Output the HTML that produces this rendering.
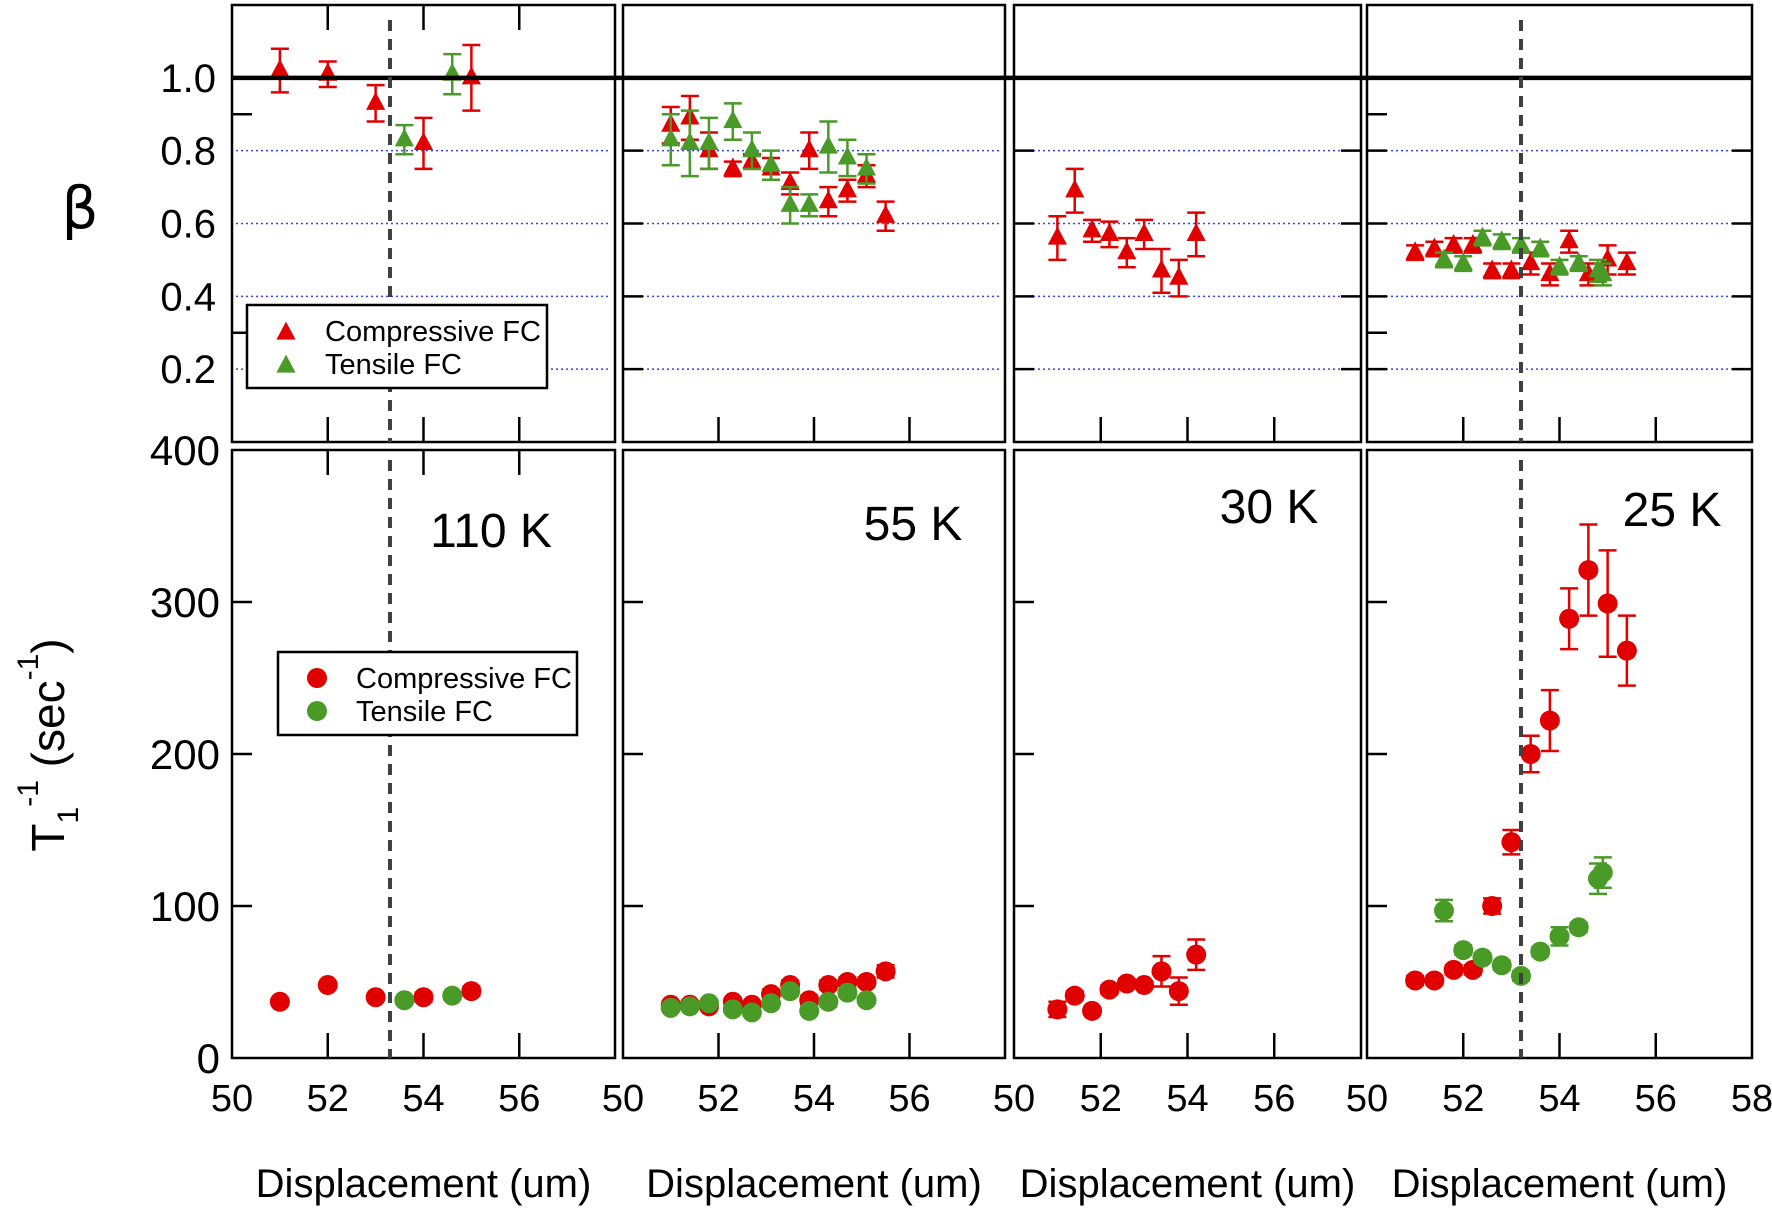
<!DOCTYPE html>
<html><head><meta charset="utf-8"><style>
html,body{margin:0;padding:0;background:#fff;}
svg{display:block;font-family:"Liberation Sans",Arial,sans-serif;}
</style></head><body>
<svg id="chart" width="1772" height="1209" viewBox="0 0 1772 1209" xmlns="http://www.w3.org/2000/svg">
<text x="80" y="228" font-size="58" text-anchor="middle" font-family="'DejaVu Sans',sans-serif">β</text>
<text transform="translate(64,745) rotate(-90)" font-size="46" text-anchor="middle">T<tspan font-size="30" dy="14">1</tspan><tspan font-size="30" dy="-40">-1</tspan><tspan dy="26"> (sec</tspan><tspan font-size="30" dy="-26">-1</tspan><tspan dy="26">)</tspan></text>
</svg>
<script>
// ---- data ----
const panelTemps = ["110 K","55 K","30 K","25 K"];
const betaTicks = [0.2,0.4,0.6,0.8,1.0];
const t1Ticks = [0,100,200,300,400];
const xTicks = [50,52,54,56,58];
const dashedXs = [53.3,53.3,null,53.2];
// panel 1 (110 K)
const p1BetaCompX = [51,52,53,54,55];
const p1BetaCompY = [1.02,1.01,0.93,0.82,1.0];
const p1BetaCompE = [0.06,0.035,0.05,0.07,0.09];
const p1BetaTensX = [53.6,54.6];
const p1BetaTensY = [0.83,1.01];
const p1BetaTensE = [0.04,0.055];
const p1T1CompX = [51,52,53,54,55];
const p1T1CompY = [37,48,40,40,44];
const p1T1CompE = [2,2,2,3,3];
const p1T1TensX = [53.6,54.6];
const p1T1TensY = [38,41];
const p1T1TensE = [2,2];
// panel 2 (55 K)
const p2BetaCompX = [51.0,51.4,51.8,52.3,52.7,53.1,53.5,53.9,54.3,54.7,55.1,55.5];
const p2BetaCompY = [0.87,0.89,0.80,0.75,0.77,0.75,0.71,0.80,0.66,0.69,0.73,0.62];
const p2BetaCompE = [0.05,0.06,0.05,0.02,0.02,0.03,0.03,0.05,0.04,0.03,0.03,0.04];
const p2BetaTensX = [51.0,51.4,51.8,52.3,52.7,53.1,53.5,53.9,54.3,54.7,55.1];
const p2BetaTensY = [0.83,0.82,0.82,0.88,0.80,0.76,0.65,0.65,0.81,0.78,0.75];
const p2BetaTensE = [0.07,0.09,0.07,0.05,0.05,0.04,0.05,0.03,0.07,0.05,0.04];
const p2T1CompX = [51.0,51.4,51.8,52.3,52.7,53.1,53.5,53.9,54.3,54.7,55.1,55.5];
const p2T1CompY = [35,35,34,37,35,42,48,38,48,50,50,57];
const p2T1CompE = [2,2,2,2,2,3,3,3,3,3,3,4];
const p2T1TensX = [51.0,51.4,51.8,52.3,52.7,53.1,53.5,53.9,54.3,54.7,55.1];
const p2T1TensY = [33,34,36,32,30,36,44,31,37,43,38];
const p2T1TensE = [2,2,2,2,2,2,3,2,3,3,2];
// panel 3 (30 K)
const p3BetaCompX = [51.0,51.4,51.8,52.2,52.6,53.0,53.4,53.8,54.2];
const p3BetaCompY = [0.56,0.69,0.58,0.57,0.52,0.57,0.47,0.45,0.57];
const p3BetaCompE = [0.06,0.06,0.03,0.035,0.04,0.04,0.06,0.05,0.06];
const p3T1CompX = [51.0,51.4,51.8,52.2,52.6,53.0,53.4,53.8,54.2];
const p3T1CompY = [32,41,31,45,49,48,57,44,68];
const p3T1CompE = [5,3,2,3,3,2,10,9,10];
// panel 4 (25 K)
const p4BetaCompX = [51.0,51.4,51.8,52.2,52.6,53.0,53.4,53.8,54.2,54.6,55.0,55.4];
const p4BetaCompY = [0.52,0.53,0.54,0.54,0.47,0.47,0.49,0.46,0.55,0.46,0.50,0.49];
const p4BetaCompE = [0.02,0.02,0.02,0.02,0.02,0.02,0.03,0.03,0.03,0.03,0.04,0.03];
const p4BetaTensX = [51.6,52.0,52.4,52.8,53.2,53.6,54.0,54.4,54.8,54.9];
const p4BetaTensY = [0.50,0.49,0.56,0.55,0.54,0.53,0.48,0.49,0.47,0.46];
const p4BetaTensE = [0.02,0.02,0.02,0.02,0.02,0.02,0.02,0.02,0.03,0.03];
const p4T1CompX = [51.0,51.4,51.8,52.2,52.6,53.0,53.4,53.8,54.2,54.6,55.0,55.4];
const p4T1CompY = [51,51,58,58,100,142,200,222,289,321,299,268];
const p4T1CompE = [3,3,3,3,5,8,12,20,20,30,35,23];
const p4T1TensX = [51.6,52.0,52.4,52.8,53.2,53.6,54.0,54.4,54.8,54.9];
const p4T1TensY = [97,71,66,61,54,70,80,86,118,122];
const p4T1TensE = [7,3,3,3,3,3,6,3,10,10];

const RED = "#e00000", GREEN = "#4a9a28";
const NS = "http://www.w3.org/2000/svg";
const svg = document.getElementById("chart");
function mk(tag, attrs, parent){
  const e = document.createElementNS(NS, tag);
  for (const k in attrs) e.setAttribute(k, attrs[k]);
  (parent||svg).appendChild(e);
  return e;
}
const panels = [
  {x0:232,x1:615},{x0:623,x1:1005},{x0:1014,x1:1361},{x0:1367,x1:1752}
];
const TOP = {y0:5,y1:442}, BOT = {y0:450,y1:1058};
function xs(p,v){return p.x0 + (v-50)/8*(p.x1-p.x0);}
function yb(v){return TOP.y1 - v/1.2*(TOP.y1-TOP.y0);}
function yt(v){return BOT.y1 - v/400*(BOT.y1-BOT.y0);}

const data = [
  {bc:[p1BetaCompX,p1BetaCompY,p1BetaCompE], bt:[p1BetaTensX,p1BetaTensY,p1BetaTensE], tc:[p1T1CompX,p1T1CompY,p1T1CompE], tt:[p1T1TensX,p1T1TensY,p1T1TensE]},
  {bc:[p2BetaCompX,p2BetaCompY,p2BetaCompE], bt:[p2BetaTensX,p2BetaTensY,p2BetaTensE], tc:[p2T1CompX,p2T1CompY,p2T1CompE], tt:[p2T1TensX,p2T1TensY,p2T1TensE]},
  {bc:[p3BetaCompX,p3BetaCompY,p3BetaCompE], bt:null, tc:[p3T1CompX,p3T1CompY,p3T1CompE], tt:null},
  {bc:[p4BetaCompX,p4BetaCompY,p4BetaCompE], bt:[p4BetaTensX,p4BetaTensY,p4BetaTensE], tc:[p4T1CompX,p4T1CompY,p4T1CompE], tt:[p4T1TensX,p4T1TensY,p4T1TensE]}
];
const tempPos = [[491,547],[913,540],[1269,523],[1672,526]];

function tri(g,cx,cy,col,s){
  const el = mk("polygon",{points:`${cx},${cy-s*0.95} ${cx-s*0.8},${cy+s*0.55} ${cx+s*0.8},${cy+s*0.55}`,fill:col},g);
  
  
}
function dot(g,cx,cy,col,r){
  const el = mk("circle",{cx:cx,cy:cy,r:r,fill:col},g);
  
  
}
function errbar(g,x,ylo,yhi,col){
  mk("line",{x1:x,x2:x,y1:ylo,y2:yhi,stroke:col,"stroke-width":2.5},g);
  mk("line",{x1:x-9,x2:x+9,y1:ylo,y2:ylo,stroke:col,"stroke-width":2.5},g);
  mk("line",{x1:x-9,x2:x+9,y1:yhi,y2:yhi,stroke:col,"stroke-width":2.5},g);
}
function series(g,p,arr,col,kind){
  const [X,Y,E]=arr;
  for(let i=0;i<X.length;i++){
    const cx=xs(p,X[i]);
    if(kind==="beta"){
      errbar(g,cx,yb(Y[i]-E[i]),yb(Y[i]+E[i]),col);
      tri(g,cx,yb(Y[i]),col,12);
    } else {
      errbar(g,cx,yt(Y[i]-E[i]),yt(Y[i]+E[i]),col);
      dot(g,cx,yt(Y[i]),col,10);
    }
  }
}

panels.forEach((p,pi)=>{
  const gt = mk("g",{});
  
  
  betaTicks.forEach(v=>{
    if(v<1.0 || pi>=2){
      const gl = mk("line",{x1:p.x0+4,x2:p.x1-4,y1:yb(v),y2:yb(v),stroke:"#3344ee","stroke-width":1.5,"stroke-dasharray":"2,3"},gt);
      
      
    }
    if(pi>0){
      mk("line",{x1:p.x0,x2:p.x0+20,y1:yb(v),y2:yb(v),stroke:"#000","stroke-width":2.5},gt);
      if(pi>=2) mk("line",{x1:p.x1-20,x2:p.x1,y1:yb(v),y2:yb(v),stroke:"#000","stroke-width":2.5},gt);
    }
  });
  if(pi===0||pi===3){
    [0.9,0.3].forEach(v=>mk("line",{x1:p.x0,x2:p.x0+20,y1:yb(v),y2:yb(v),stroke:"#000","stroke-width":2.5},gt));
  }
  [52,54,56].forEach(v=>{
    mk("line",{x1:xs(p,v),x2:xs(p,v),y1:TOP.y1,y2:TOP.y1-25,stroke:"#000","stroke-width":2.5},gt);
    if(pi===0) mk("line",{x1:xs(p,v),x2:xs(p,v),y1:TOP.y0,y2:TOP.y0+25,stroke:"#000","stroke-width":2.5},gt);
  });
  if(data[pi].bc) series(gt,p,data[pi].bc,RED,"beta");
  if(data[pi].bt) series(gt,p,data[pi].bt,GREEN,"beta");
  const bt = mk("rect",{x:p.x0,y:TOP.y0,width:p.x1-p.x0,height:TOP.y1-TOP.y0,fill:"none",stroke:"#000","stroke-width":2.5},gt);
  
  

  const gb = mk("g",{});
  
  
  [100,200,300].forEach(v=>mk("line",{x1:p.x0,x2:p.x0+20,y1:yt(v),y2:yt(v),stroke:"#000","stroke-width":2.5},gb));
  [52,54,56].forEach(v=>{
    mk("line",{x1:xs(p,v),x2:xs(p,v),y1:BOT.y1,y2:BOT.y1-25,stroke:"#000","stroke-width":2.5},gb);
    if(pi===0) mk("line",{x1:xs(p,v),x2:xs(p,v),y1:BOT.y0,y2:BOT.y0+25,stroke:"#000","stroke-width":2.5},gb);
  });
  if(data[pi].tc) series(gb,p,data[pi].tc,RED,"t1");
  if(data[pi].tt) series(gb,p,data[pi].tt,GREEN,"t1");
  const bf = mk("rect",{x:p.x0,y:BOT.y0,width:p.x1-p.x0,height:BOT.y1-BOT.y0,fill:"none",stroke:"#000","stroke-width":2.5},gb);
  
  

  const tl = mk("text",{x:tempPos[pi][0],y:tempPos[pi][1],"font-size":48,"text-anchor":"middle"},gb);
  tl.textContent = panelTemps[pi];
  
  

  xTicks.forEach(v=>{
    if(v===58 && pi!==3) return;
    const t = mk("text",{x:xs(p,v),y:1111,"font-size":38,"text-anchor":"middle"});
    t.textContent = v;
    
    
  });
  const xl = mk("text",{x:(p.x0+p.x1)/2,y:1197,"font-size":40,"text-anchor":"middle"});
  xl.textContent = "Displacement (um)";
  
  
});

const bl = mk("line",{x1:232,x2:1752,y1:yb(1.0),y2:yb(1.0),stroke:"#000","stroke-width":4.5});



[0,3].forEach(pi=>{
  const p = panels[pi];
  const x = xs(p,dashedXs[pi]);
  [[TOP.y0+15,TOP.y1],[BOT.y0+10,BOT.y1]].forEach(r=>{
    const d = mk("line",{x1:x,x2:x,y1:r[0],y2:r[1],stroke:"#404040","stroke-width":4,"stroke-dasharray":"11,8"});
    
    
  });
});

betaTicks.forEach(v=>{
  const t = mk("text",{x:216,y:yb(v)+14,"font-size":40,"text-anchor":"end"});
  t.textContent = v.toFixed(1);
  
  
});
t1Ticks.forEach(v=>{
  const t = mk("text",{x:220,y:yt(v)+15,"font-size":42,"text-anchor":"end"});
  t.textContent = v;
  
  
});

function legend(x,y,w,h,kind,name){
  const g = mk("g",{});
  
  
  mk("rect",{x:x,y:y,width:w,height:h,fill:"#fff",stroke:"#000","stroke-width":2.5},g);
  [["Compressive FC",RED],["Tensile FC",GREEN]].forEach((e,i)=>{
    const cy = y+26+i*33;
    if(kind==="tri") tri(g,x+39,cy+2,e[1],12); else dot(g,x+39,cy,e[1],10);
    const t = mk("text",{x:x+78,y:cy+10,"font-size":29},g);
    t.textContent = e[0];
    
    
  });
}
legend(247,305,300,83,"tri","beta-legend");
legend(278,652,299,83,"dot","t1-legend");
</script>
</body></html>
